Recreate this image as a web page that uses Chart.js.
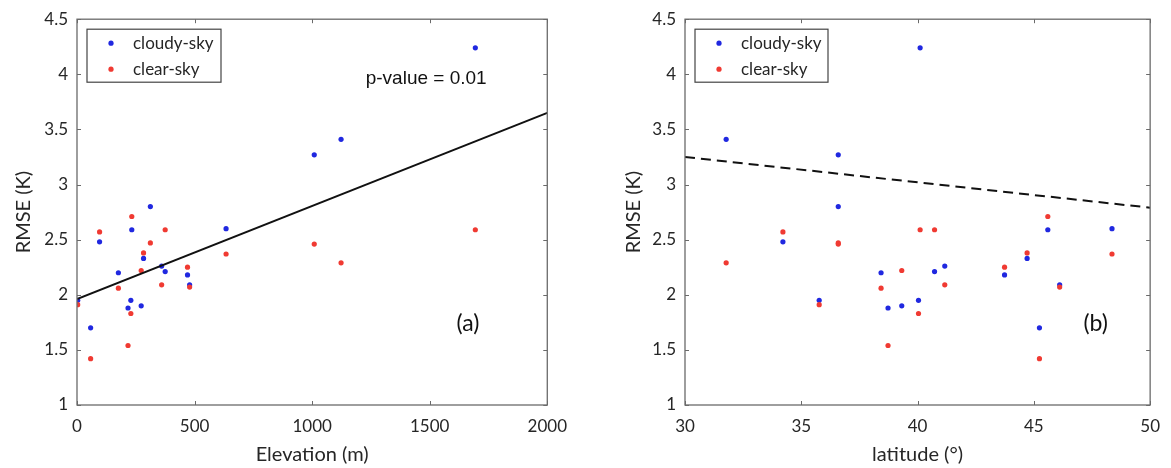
<!DOCTYPE html>
<html>
<head>
<meta charset="utf-8">
<script src="https://cdn.jsdelivr.net/npm/chart.js@4"></script>
<style>
  body { margin: 0; background: #fff; }
  .panel { position: absolute; top: 0; height: 468px; }
  #left { left: 0; width: 578px; }
  #right { left: 610px; width: 561px; }
</style>
</head>
<body>
<div class="panel" id="left"><canvas id="elevChart"></canvas></div>
<div class="panel" id="right"><canvas id="latChart"></canvas></div>
<script>
// stations (same order in every array)
var elevation = [3, 58, 96, 176, 217, 229, 233, 273, 283, 312, 360, 375, 470, 479, 634, 1009, 1123, 1694];
var latitude = [35.77, 45.24, 34.21, 38.43, 38.73, 40.04, 45.6, 39.32, 44.71, 36.59, 41.17, 40.73, 43.74, 46.11, 48.36, 36.59, 31.77, 40.11];
var cloudyRmse = [1.95, 1.70, 2.48, 2.20, 1.88, 1.95, 2.59, 1.90, 2.33, 2.80, 2.26, 2.21, 2.18, 2.09, 2.60, 3.27, 3.41, 4.24];
var clearRmse = [1.91, 1.42, 2.57, 2.06, 1.54, 1.83, 2.71, 2.22, 2.38, 2.47, 2.09, 2.59, 2.25, 2.07, 2.37, 2.46, 2.29, 2.59];

// fitted lines (end points)
var elevFitX = [0, 2000];
var elevFitY = [1.96, 3.65];
var latFitX = [30, 50];
var latFitY = [3.25, 2.79];

var seriesNames = ["cloudy-sky", "clear-sky"];
var blue = "#2028e0";
var red = "#f03a32";
var axisColor = "#6a6a6a";
var textColor = "#262626";
var font = "Lato, 'Open Sans', sans-serif";

function pairs(xs, ys) {
  return xs.map(function(x, i) { return { x: x, y: ys[i] }; });
}

// box round the plot with inward ticks, like matlab
var boxPlugin = {
  id: "box",
  afterDatasetsDraw: function(chart) {
    var ctx = chart.ctx, a = chart.chartArea;
    var xs = chart.scales.x, ys = chart.scales.y;
    ctx.save();
    ctx.strokeStyle = axisColor;
    ctx.lineWidth = 1.3;
    ctx.strokeRect(a.left, a.top, a.right - a.left, a.bottom - a.top);
    ctx.lineWidth = 1;
    ctx.beginPath();
    xs.ticks.forEach(function(t) {
      var px = Math.round(xs.getPixelForValue(t.value)) + 0.5;
      ctx.moveTo(px, a.bottom); ctx.lineTo(px, a.bottom - 4);
      ctx.moveTo(px, a.top); ctx.lineTo(px, a.top + 4);
    });
    ys.ticks.forEach(function(t) {
      var py = Math.round(ys.getPixelForValue(t.value)) + 0.5;
      ctx.moveTo(a.left, py); ctx.lineTo(a.left + 4, py);
      ctx.moveTo(a.right, py); ctx.lineTo(a.right - 4, py);
    });
    ctx.stroke();
    ctx.restore();
  }
};

// legend box + text notes
var notesPlugin = {
  id: "notes",
  afterDraw: function(chart, args, opts) {
    var ctx = chart.ctx, a = chart.chartArea;
    ctx.save();
    var lx = a.left + opts.legendDx, ly = a.top + 10;
    ctx.strokeStyle = "#444";
    ctx.lineWidth = 1.2;
    ctx.fillStyle = "#fff";
    ctx.fillRect(lx, ly, opts.legendW, 53);
    ctx.strokeRect(lx, ly, opts.legendW, 53);
    ctx.font = "17px " + font;
    ctx.textBaseline = "middle";
    [0, 1].forEach(function(i) {
      var ds = chart.data.datasets[i];
      var yy = ly + 14 + i * 26;
      ctx.fillStyle = ds.backgroundColor;
      ctx.beginPath();
      ctx.arc(lx + 24, yy, 2.6, 0, Math.PI * 2);
      ctx.fill();
      ctx.fillStyle = textColor;
      ctx.fillText(ds.label, lx + 46, yy);
    });
    ctx.textAlign = "center";
    (opts.texts || []).forEach(function(t) {
      ctx.font = t.font;
      ctx.fillStyle = "#111";
      ctx.fillText(t.text, chart.scales.x.getPixelForValue(t.x), chart.scales.y.getPixelForValue(t.y));
    });
    ctx.restore();
  }
};

function makeChart(id, xs, fitX, fitY, dashed, xMin, xMax, xStep, xTitle, yAxisW, padRight, legendDx, legendW, texts) {
  return new Chart(document.getElementById(id), {
    type: "scatter",
    data: {
      datasets: [
        { label: seriesNames[0], data: pairs(xs, cloudyRmse), backgroundColor: blue, pointRadius: 2.6, pointBorderWidth: 0, order: 2 },
        { label: seriesNames[1], data: pairs(xs, clearRmse), backgroundColor: red, pointRadius: 2.6, pointBorderWidth: 0, order: 1 },
        { label: "fit", type: "line", data: pairs(fitX, fitY), borderColor: "#111", borderWidth: 2,
          borderDash: dashed ? [10, 6] : [], pointRadius: 0, fill: false, order: 0 }
      ]
    },
    options: {
      responsive: true,
      maintainAspectRatio: false,
      animation: false,
      layout: { padding: { top: 18, right: padRight, bottom: 0, left: 0 } },
      plugins: {
        legend: { display: false },
        tooltip: { enabled: false },
        notes: { legendDx: legendDx, legendW: legendW, texts: texts }
      },
      scales: {
        x: {
          type: "linear", min: xMin, max: xMax,
          afterFit: function(s) { s.height = 63; },
          ticks: { stepSize: xStep, padding: 11, color: textColor, font: { family: font, size: 17 },
                   callback: function(v) { return String(v); } },
          grid: { display: false, drawTicks: false },
          border: { display: false },
          title: { display: true, text: xTitle, color: textColor, font: { family: font, size: 20 }, padding: { top: 0, bottom: 1 } }
        },
        y: {
          type: "linear", min: 1, max: 4.5,
          afterFit: function(s) { s.width = yAxisW; },
          ticks: { stepSize: 0.5, padding: 9, color: textColor, font: { family: font, size: 17 },
                   callback: function(v) { return String(v); } },
          grid: { display: false, drawTicks: false },
          border: { display: false },
          title: { display: true, text: "RMSE (K)", color: textColor, font: { family: font, size: 20 }, padding: { top: 12, bottom: 0 } }
        }
      }
    },
    plugins: [boxPlugin, notesPlugin]
  });
}

makeChart("elevChart", elevation, elevFitX, elevFitY, false, 0, 2000, 500, "Elevation (m)", 77, 0, 10, 134, [
  { text: "p-value = 0.01", x: 1485, y: 3.96, font: "19px 'Liberation Sans', Arial, sans-serif" },
  { text: "(a)", x: 1663, y: 1.74, font: "23px " + font }
]);
makeChart("latChart", latitude, latFitX, latFitY, true, 30, 50, 5, "latitude (°)", 75, 16, 10, 133, [
  { text: "(b)", x: 47.66, y: 1.74, font: "23px " + font }
]);
</script>
</body>
</html>
